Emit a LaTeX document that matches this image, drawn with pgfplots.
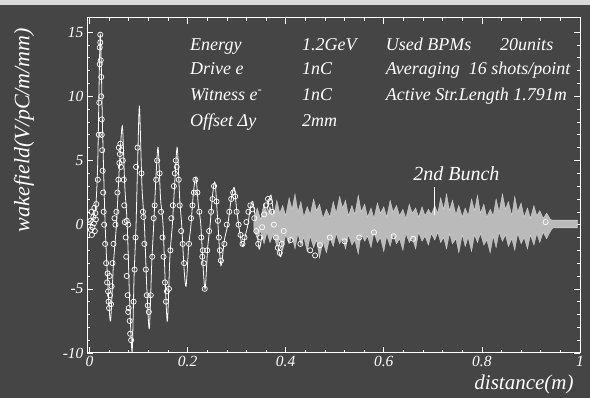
\documentclass[border=0pt]{standalone}
\usepackage{fontspec}
\setmainfont{Liberation Serif}
\usepackage{pgfplots}
\pgfplotsset{compat=1.18}
\begin{document}
\begin{tikzpicture}[x=1pt,y=1pt]
\useasboundingbox (0,0) rectangle (590,398);
\fill[black!73] (0,0) rectangle (590,398);
\fill[white!85!black] (0,393) rectangle (590,398);
\begin{axis}[
  at={(87pt,45pt)}, anchor=south west,
  scale only axis, width=493pt, height=335pt,
  xmin=-0.005, xmax=1.0, ymin=-10, ymax=16.1,
  axis line style={white, line width=1pt},
  every tick/.style={white, line width=0.6pt},
  tick align=inside,
  major tick length=6pt, minor tick length=3pt,
  xtick={0,0.2,0.4,0.6,0.8,1}, xticklabels={0,0.2,0.4,0.6,0.8,1},
  minor x tick num=4,
  ytick={-10,-5,0,5,10,15}, yticklabels={-10,-5,0,5,10,15},
  minor y tick num=4,
  tick label style={white, font=\fontsize{15.5}{15.5}\selectfont\itshape},
]
% simulated wakefield (line)
\addplot[white, line width=0.8pt, smooth, tension=0.45] coordinates {
(0,0.2)(0.008,0.6)(0.013,1.5)(0.017,5)(0.022,14.8)(0.027,7)(0.032,0)(0.038,-5)(0.043,-7.5)
(0.049,-3)(0.055,0)(0.061,4.5)(0.067,7.7)(0.072,3)(0.077,0)(0.082,-6)(0.087,-9.9)(0.091,-4)
(0.095,0)(0.099,6)(0.102,9.2)(0.107,3)(0.112,0)(0.117,-5)(0.122,-8.1)(0.127,-3)(0.131,0)
(0.136,4)(0.140,6.0)(0.145,2)(0.150,0)(0.155,-5)(0.159,-7.5)(0.164,-2.5)(0.169,0)(0.175,4)
(0.179,6.0)(0.184,2)(0.188,0)(0.193,-3.5)(0.197,-4.8)(0.202,-1.8)(0.207,0)(0.212,2.5)
(0.217,3.7)(0.222,1.5)(0.227,0)(0.232,-3.5)(0.236,-5.0)(0.241,-1.8)(0.246,0)(0.251,2.3)
(0.256,3.3)(0.262,0)(0.268,-3.2)(0.275,-1.2)(0.282,0)(0.289,2)(0.295,2.9)(0.300,1.2)
(0.304,0)(0.309,-1.2)(0.313,-1.7)(0.318,-0.8)(0.323,0)(0.328,1.3)(0.333,1.8)(0.340,0)
(0.346,-1.9)(0.352,-0.8)(0.358,0)(0.364,1.6)(0.370,2.3)(0.375,1)(0.380,0)(0.385,-1.8)
(0.390,-2.5)(0.395,-1)(0.400,0)};
% measured band (dense data)
\addplot[fill=black!27, draw=black!15, line width=0.3pt] coordinates {
(0.335,0.4)(0.342,1.3)(0.349,0.4)(0.356,1.7)(0.362,0.8)(0.368,1.4)(0.375,0.6)(0.382,1.9)
(0.388,0.9)(0.394,1.5)(0.400,0.7)(0.407,2.1)(0.413,1.2)(0.419,2.4)(0.425,1.0)(0.431,1.8)
(0.437,0.6)(0.444,1.4)(0.450,0.8)(0.457,2.0)(0.463,1.1)(0.469,1.6)(0.476,0.5)(0.483,1.2)
(0.490,0.6)(0.497,1.8)(0.503,0.9)(0.510,2.2)(0.516,1.3)(0.522,1.9)(0.528,0.7)(0.535,1.5)
(0.541,0.8)(0.548,2.3)(0.554,1.0)(0.561,1.6)(0.567,0.6)(0.574,1.3)(0.580,0.5)(0.587,1.7)
(0.593,0.9)(0.600,1.4)(0.606,0.6)(0.613,1.9)(0.619,1.0)(0.626,1.5)(0.632,0.7)(0.639,1.2)
(0.645,0.5)(0.652,1.6)(0.658,0.9)(0.665,1.3)(0.671,0.6)(0.678,1.4)(0.684,0.7)(0.691,1.2)
(0.697,0.8)(0.704,1.5)(0.710,0.9)(0.716,2.1)(0.722,1.2)(0.728,2.4)(0.734,1.1)(0.740,1.9)
(0.747,0.8)(0.753,1.5)(0.760,0.6)(0.766,1.3)(0.772,0.7)(0.779,2.0)(0.785,1.1)(0.791,2.3)
(0.797,0.9)(0.804,1.6)(0.810,0.6)(0.817,1.2)(0.823,0.7)(0.829,2.0)(0.835,1.0)(0.842,2.4)
(0.848,1.2)(0.854,1.8)(0.861,0.7)(0.867,2.2)(0.873,1.0)(0.880,1.7)(0.886,0.6)(0.893,1.3)
(0.899,0.5)(0.906,1.5)(0.912,0.7)(0.918,1.1)(0.925,0.5)(0.932,0.9)(0.940,0.4)(0.945,0.35)
(0.995,0.35)(0.995,-0.25)(0.945,-0.25)
(0.940,-0.5)(0.932,-1.1)(0.925,-0.6)(0.918,-1.4)(0.912,-0.7)(0.906,-1.6)(0.899,-0.8)(0.893,-1.9)
(0.886,-1.0)(0.880,-1.5)(0.873,-0.7)(0.867,-2.0)(0.861,-1.1)(0.854,-1.7)(0.848,-0.8)(0.842,-1.3)
(0.835,-0.6)(0.829,-1.8)(0.823,-0.9)(0.817,-2.2)(0.810,-1.2)(0.804,-1.6)(0.797,-0.7)(0.791,-1.4)
(0.785,-0.8)(0.779,-2.1)(0.772,-1.0)(0.766,-1.7)(0.760,-0.8)(0.753,-2.2)(0.747,-1.1)(0.740,-1.5)
(0.734,-0.7)(0.728,-1.9)(0.722,-1.0)(0.716,-1.4)(0.710,-0.6)(0.704,-1.2)(0.697,-0.7)(0.691,-1.6)
(0.684,-0.9)(0.678,-1.3)(0.671,-0.6)(0.665,-1.9)(0.658,-1.0)(0.652,-1.4)(0.645,-0.7)(0.639,-2.0)
(0.632,-1.1)(0.626,-1.5)(0.619,-0.8)(0.613,-1.7)(0.606,-0.9)(0.600,-2.1)(0.593,-1.0)(0.587,-1.4)
(0.580,-0.6)(0.574,-1.8)(0.567,-0.9)(0.561,-1.3)(0.554,-0.7)(0.548,-2.3)(0.541,-1.2)(0.535,-1.6)
(0.528,-0.8)(0.522,-1.9)(0.516,-1.0)(0.510,-1.5)(0.503,-0.7)(0.497,-1.7)(0.490,-1.0)(0.483,-2.2)
(0.476,-1.3)(0.469,-2.6)(0.463,-1.2)(0.457,-1.8)(0.450,-0.9)(0.444,-2.1)(0.437,-1.0)(0.431,-1.6)
(0.425,-0.7)(0.419,-1.9)(0.413,-0.9)(0.407,-1.5)(0.400,-0.8)(0.394,-2.0)(0.388,-1.1)(0.382,-1.7)
(0.375,-0.7)(0.368,-1.4)(0.362,-0.6)(0.356,-1.5)(0.349,-0.5)(0.342,-1.1)(0.335,-0.3)} -- cycle;
% measured points (circles)
\addplot[only marks, mark=o, mark size=2.6pt, white, mark options={line width=0.7pt}] coordinates {
(0.002,0.3)(0.004,1.0)(0.006,-0.2)(0.008,0.6)(0.010,1.3)(0.011,-0.5)(0.013,0.4)(0.005,-0.8)
(0.009,0.1)(0.014,1.6)(0.003,-0.4)(0.012,0.9)
(0.017,3.5)(0.019,7.0)(0.020,9.5)(0.021,12.5)(0.021,13.8)(0.022,14.8)(0.022,14.2)(0.023,12.8)
(0.024,11.5)(0.024,10)(0.025,8.2)(0.025,7)(0.026,5.8)(0.027,4.2)(0.028,2.5)(0.029,1.0)
(0.030,0)(0.032,-1.5)(0.034,-3)(0.036,-4.5)(0.038,-5.2)(0.039,-6.0)(0.040,-6.5)(0.041,-4.0)
(0.042,-5.5)(0.037,-3.8)(0.044,-6.2)(0.045,-4.8)
(0.047,-3.0)(0.049,-1.5)(0.051,0.5)(0.053,0.0)(0.055,1.0)(0.057,2.5)(0.059,3.5)(0.061,4.8)
(0.062,5.5)(0.063,6.3)(0.064,4.5)(0.065,5.8)(0.060,6.0)
(0.068,5.0)(0.070,3.5)(0.071,1.5)(0.072,0.2)(0.074,-1.0)(0.075,-2.5)(0.076,-4.0)(0.078,-5.5)
(0.080,-6.5)(0.082,-7.5)(0.083,-8.5)(0.079,-6.8)(0.085,-9.0)(0.076,0.3)(0.079,0.0)
(0.090,-6.0)(0.092,-3.5)(0.094,-1.0)(0.095,4.5)(0.098,6.0)(0.110,0.6)(0.112,-1.5)
(0.106,4.0)(0.109,1.0)(0.115,-3.5)(0.117,-5.5)(0.119,-6.3)(0.121,-6.8)
(0.125,-5.5)(0.128,-2.5)(0.131,0.5)(0.133,1.5)(0.136,3.5)(0.138,5.0)
(0.143,4.0)(0.146,1.0)(0.149,-1.0)(0.151,-2.5)(0.154,-4.5)(0.156,-6.0)(0.158,-5.2)
(0.162,-5.0)(0.165,-2.0)(0.167,0.5)(0.170,1.5)(0.172,3.0)(0.174,4.0)(0.176,5.0)(0.178,4.5)
(0.182,3.5)(0.184,1.5)(0.187,-0.5)(0.190,-1.5)(0.193,-3.0)
(0.203,-1.5)(0.207,0.5)(0.210,1.5)(0.213,2.5)(0.216,3.5)
(0.220,2.5)(0.224,1.0)(0.228,-1.0)(0.231,-2.0)(0.233,-3.0)(0.235,-5.0)(0.230,-2.5)
(0.240,-2.0)(0.244,-0.5)(0.248,1.0)(0.251,2.0)(0.254,3.0)
(0.259,1.8)(0.262,0.3)(0.264,-1.0)(0.266,-2.0)(0.268,-2.8)
(0.275,-1.5)(0.280,0.0)(0.285,1.0)(0.289,2.0)(0.293,2.5)(0.297,2.2)
(0.300,1.0)(0.304,0.0)(0.308,-0.8)(0.312,-1.5)
(0.316,-1.0)(0.320,0.2)(0.324,1.0)(0.328,1.5)(0.332,1.2)(0.336,0.5)(0.340,-0.5)(0.344,-1.5)
(0.348,-1.0)(0.352,-0.2)(0.356,0.8)(0.360,1.5)(0.364,2.0)(0.368,1.8)(0.372,1.0)(0.376,0.0)
(0.380,-1.0)(0.384,-1.8)(0.388,-2.2)(0.392,-1.5)(0.396,-0.5)
(0.41,-1.2)(0.43,-1.5)(0.45,-2.0)(0.46,-2.4)(0.47,-1.6)(0.49,-1.0)(0.52,-1.3)(0.55,-1.0)
(0.58,-0.6)(0.62,-0.9)(0.66,-1.1)(0.93,0.2)};
% 2nd bunch marker
\addplot[white, line width=1.2pt] coordinates {(0.704,0.75)(0.704,2.93)};
\node[white, anchor=base, font=\fontsize{20}{20}\selectfont\itshape] at (axis cs:0.748,3.47) {2nd Bunch};
% annotations
\begin{scope}[every node/.style={white, anchor=base west, inner sep=0pt, font=\fontsize{18}{18}\selectfont\itshape}]
\node at (axis cs:0.205,13.6) {Energy};
\node at (axis cs:0.205,11.66) {Drive e};
\node at (axis cs:0.205,9.7) {Witness e\textsuperscript{-}};
\node at (axis cs:0.205,7.68) {Offset Δy};
\node at (axis cs:0.433,13.6) {1.2GeV};
\node at (axis cs:0.433,11.66) {1nC};
\node at (axis cs:0.433,9.7) {1nC};
\node at (axis cs:0.433,7.68) {2mm};
\node at (axis cs:0.604,13.6) {Used BPMs};
\node at (axis cs:0.837,13.6) {20units};
\node at (axis cs:0.604,11.66) {Averaging\ \ 16 shots/point};
\node at (axis cs:0.604,9.7) {Active Str.Length 1.791m};
\end{scope}
\end{axis}
\node[white, rotate=90, font=\fontsize{22}{22}\selectfont\itshape] at (24,268) {wakefield(V/pC/m/mm)};
\node[white, anchor=base, font=\fontsize{21}{21}\selectfont\itshape] at (524,8) {distance(m)};
\end{tikzpicture}
\end{document}
